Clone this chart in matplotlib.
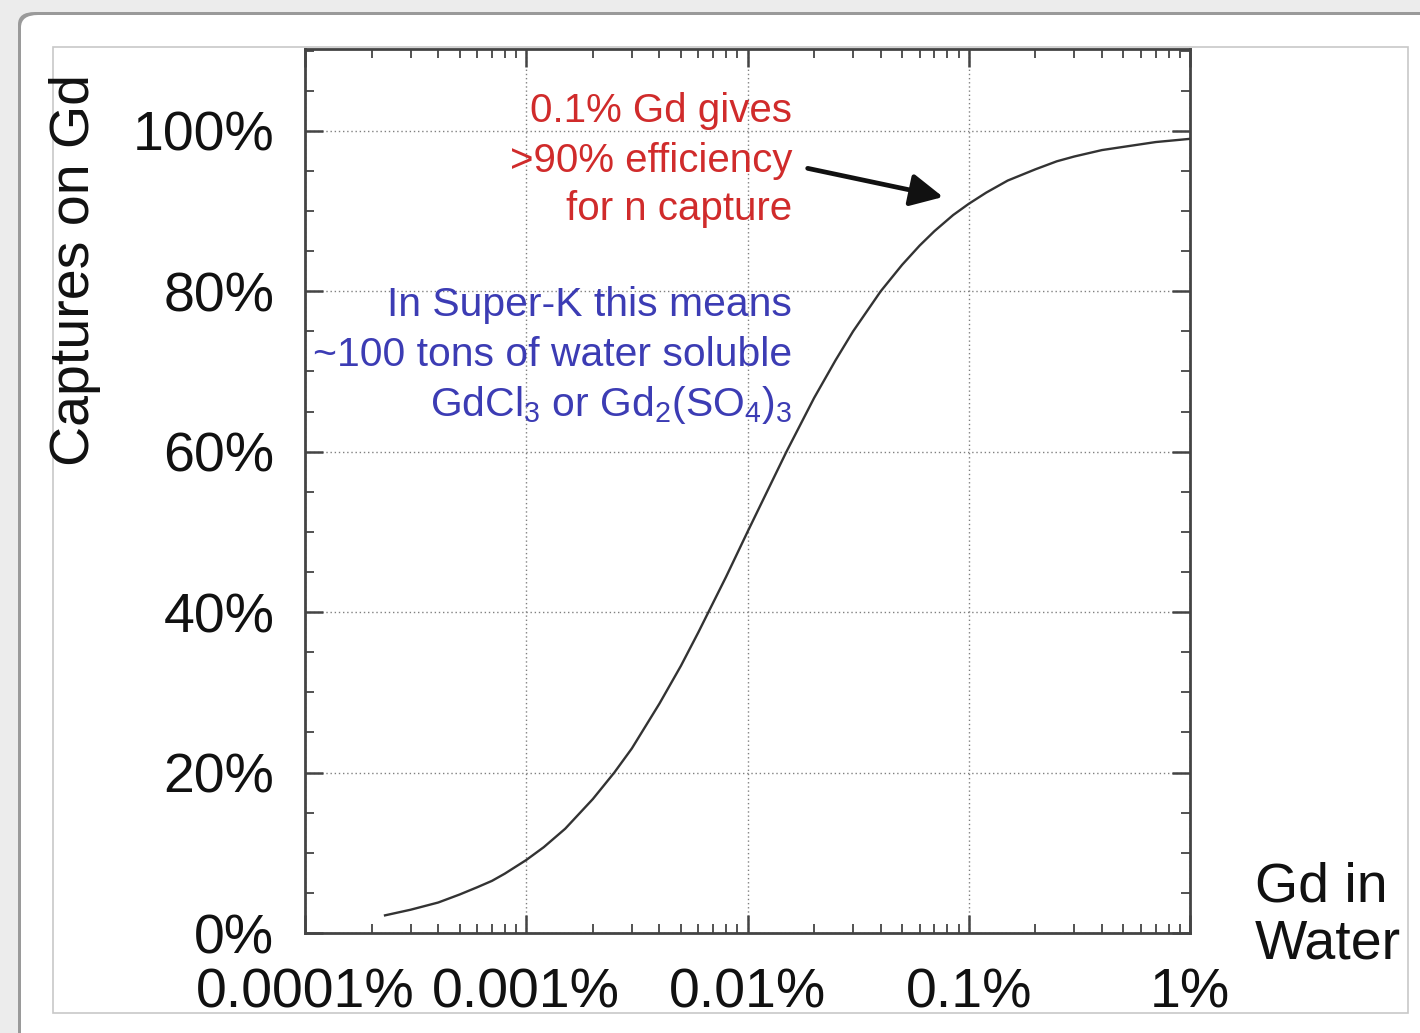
import numpy as np
import matplotlib
matplotlib.use("Agg")
import matplotlib.pyplot as plt
from matplotlib.patches import FancyBboxPatch, Rectangle
from matplotlib.ticker import FixedLocator, MultipleLocator, LogLocator, NullFormatter

plt.rcParams['font.family'] = ['Liberation Sans', 'DejaVu Sans']
plt.rcParams['mathtext.fontset'] = 'custom'
plt.rcParams['mathtext.rm'] = 'Liberation Sans'

# --- data (Gd concentration in %, captures on Gd in %) ---
gd_conc = [0.00023, 0.0003, 0.0004, 0.0005, 0.0006, 0.0007, 0.0008, 0.001, 0.0012,
           0.0015, 0.002, 0.0025, 0.003, 0.004, 0.005, 0.006, 0.007, 0.008, 0.01,
           0.012, 0.015, 0.02, 0.025, 0.03, 0.04, 0.05, 0.06, 0.07, 0.085, 0.1,
           0.12, 0.15, 0.2, 0.25, 0.3, 0.4, 0.5, 0.7, 1.0]
captures = [2.2, 2.9, 3.8, 4.8, 5.7, 6.5, 7.4, 9.1, 10.7,
            13.0, 16.7, 20.0, 23.0, 28.6, 33.3, 37.5, 41.2, 44.4, 50.0,
            54.5, 60.0, 66.7, 71.4, 75.0, 80.0, 83.3, 85.7, 87.5, 89.5, 90.9,
            92.3, 93.8, 95.2, 96.2, 96.8, 97.6, 98.0, 98.6, 99.0]

x_ticks = [0.0001, 0.001, 0.01, 0.1, 1.0]
x_labels = ['0.0001%', '0.001%', '0.01%', '0.1%', '1%']
y_ticks = [0, 20, 40, 60, 80, 100]
y_labels = ['0%', '20%', '40%', '60%', '80%', '100%']

red_lines = ['0.1% Gd gives', '>90% efficiency', 'for n capture']
blue_lines = ['In Super-K this means', '~100 tons of water soluble',
              r'GdCl$_\mathregular{3}$ or Gd$_\mathregular{2}$(SO$_\mathregular{4}$)$_\mathregular{3}$']

W, H = 1420, 1033
fig = plt.figure(figsize=(W / 100, H / 100), dpi=100)
fig.patch.set_facecolor('#ececec')

def fx(px):
    return px / W

def fy(py):
    return 1 - py / H

# card with a soft shadow
shadow = FancyBboxPatch((fx(18), fy(1100)), fx(1500), fy(12) - fy(1100),
                        boxstyle='round,pad=0,rounding_size=0.012',
                        transform=fig.transFigure, facecolor='#9a9a9a',
                        edgecolor='none', zorder=0)
card = FancyBboxPatch((fx(21), fy(1100)), fx(1500), fy(15) - fy(1100),
                      boxstyle='round,pad=0,rounding_size=0.012',
                      transform=fig.transFigure, facecolor='white',
                      edgecolor='none', zorder=0.5)
frame = Rectangle((fx(53), fy(1013)), fx(1408) - fx(53), fy(47) - fy(1013),
                  transform=fig.transFigure, facecolor='white',
                  edgecolor='#c8c8c8', lw=1.2, zorder=0.8)
fig.patches.extend([shadow, card, frame])

ax = fig.add_axes([fx(305), fy(933), fx(1190) - fx(305), fy(49) - fy(933)])
ax.set_zorder(2)
ax.set_facecolor('none')

ax.plot(gd_conc, captures, color='#333333', lw=1.7, zorder=3)

ax.set_xscale('log')
ax.set_xlim(1e-4, 1.0)
ax.set_ylim(0, 110.2)

ax.xaxis.set_major_locator(FixedLocator(x_ticks))
ax.set_xticklabels(x_labels)
ax.xaxis.set_minor_locator(LogLocator(base=10, subs=np.arange(2, 10)))
ax.xaxis.set_minor_formatter(NullFormatter())
ax.set_yticks(y_ticks)
ax.set_yticklabels(y_labels)
ax.yaxis.set_minor_locator(MultipleLocator(5))

ax.tick_params(which='both', direction='in', top=True, right=True,
               color='#444444', labelsize=40, labelcolor='#111111')
ax.tick_params(which='major', length=13, width=1.8)
ax.tick_params(which='minor', length=6.5, width=1.3)
ax.tick_params(axis='x', which='major', pad=25)
ax.tick_params(axis='y', which='major', pad=22)

for s in ax.spines.values():
    s.set_color('#444444')
    s.set_linewidth(2)

ax.grid(True, which='major', color='#808080', lw=1.0, linestyle=(0, (1, 2)))
ax.set_axisbelow(True)

# axis titles
fig.text(fx(75), fy(270), 'Captures on Gd', rotation=90, ha='center', va='center',
         fontsize=40, color='#111111')
fig.text(fx(1255), fy(862), 'Gd in\nWater', ha='left', va='top',
         fontsize=40, color='#111111', linespacing=1.12)

# annotations
red_y = [0.9174, 0.861, 0.806]
for txt, yy in zip(red_lines, red_y):
    ax.text(0.5503, yy, txt, transform=ax.transAxes, ha='right', va='baseline',
            fontsize=29, color='#d02b2b', zorder=4)

blue_y = [0.698, 0.641, 0.585]
for txt, yy in zip(blue_lines, blue_y):
    ax.text(0.5503, yy, txt, transform=ax.transAxes, ha='right', va='baseline',
            fontsize=29.4, color='#3c3cb4', zorder=4)

ax.annotate('', xy=(0.721, 0.8326), xytext=(0.568, 0.865),
            xycoords='axes fraction', textcoords='axes fraction',
            arrowprops=dict(arrowstyle='-|>,head_length=0.9,head_width=0.45',
                            color='#111111', lw=3.4, mutation_scale=22,
                            shrinkA=0, shrinkB=0))

fig.savefig('out.png', dpi=100, facecolor=fig.get_facecolor())
